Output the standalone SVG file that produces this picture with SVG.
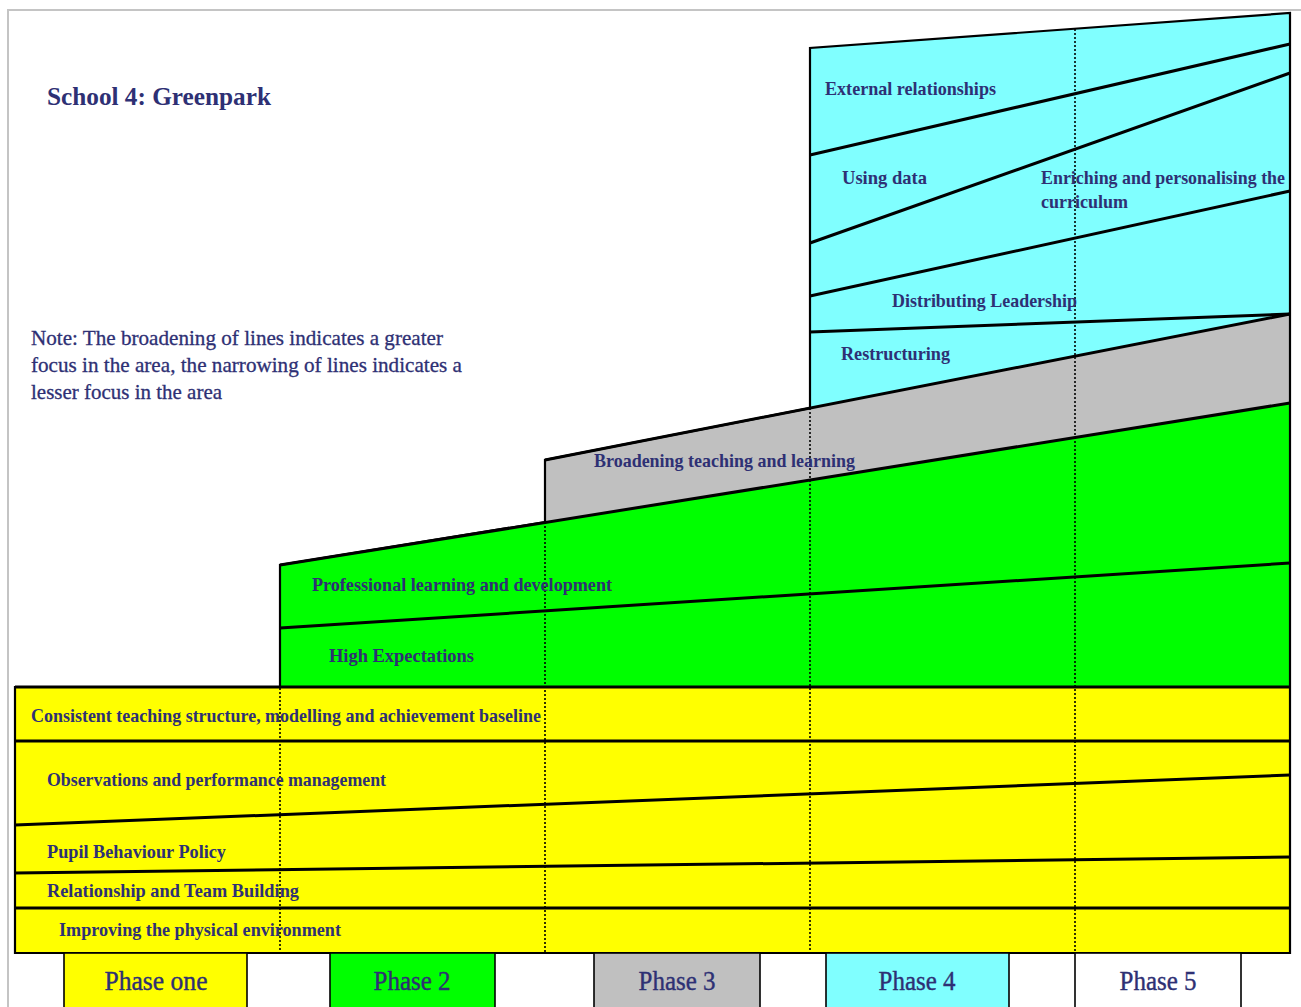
<svg xmlns="http://www.w3.org/2000/svg" width="1301" height="1007" viewBox="0 0 1301 1007">
  <style>
    .lbl { font-family: "Liberation Serif", "Times New Roman", serif; font-weight: bold; font-size: 19px; fill: #2e3074; }
    .note { font-family: "Liberation Serif", "Times New Roman", serif; font-size: 21px; fill: #2e3074; stroke: #2e3074; stroke-width: 0.3; }
    .title { font-family: "Liberation Serif", "Times New Roman", serif; font-weight: bold; font-size: 26px; fill: #2e3074; }
    .phase { font-family: "Liberation Serif", "Times New Roman", serif; font-size: 28px; fill: #2e3074; stroke: #2e3074; stroke-width: 0.4; text-anchor: middle; }
    .sep { stroke: #000; stroke-width: 3; fill: none; }
    .edge { stroke: #000; stroke-width: 2.2; fill: none; }
    .dash { stroke: #000; stroke-width: 1.6; stroke-dasharray: 2 2; fill: none; }
    .box { stroke: #000; stroke-width: 1.6; }
  </style>

  <!-- page frame -->
  <rect x="0" y="0" width="1301" height="1007" fill="#ffffff"/>
  <rect x="8" y="10" width="1310" height="1010" fill="#ffffff" stroke="#c4c4c4" stroke-width="2"/>

  <text class="title" x="47" y="105" textLength="224" lengthAdjust="spacingAndGlyphs">School 4: Greenpark</text>

  <g id="note">
    <text class="note" x="31" y="345" textLength="412" lengthAdjust="spacingAndGlyphs">Note: The broadening of lines indicates a greater</text>
    <text class="note" x="31" y="372" textLength="431" lengthAdjust="spacingAndGlyphs">focus in the area, the narrowing of lines indicates a</text>
    <text class="note" x="31" y="399" textLength="191" lengthAdjust="spacingAndGlyphs">lesser focus in the area</text>
  </g>

  <!-- phase bands -->
  <g id="band-phase4">
    <polygon points="810,48 1290,13 1290,314 810,408" fill="#80ffff"/>
  </g>
  <g id="band-phase3">
    <polygon points="545,460 1290,314 1290,403 545,522" fill="#c0c0c0"/>
  </g>
  <g id="band-phase2">
    <polygon points="280,565 1290,403 1290,687 280,687" fill="#00ff00"/>
  </g>
  <g id="band-phase1">
    <rect x="15" y="687" width="1275" height="266" fill="#ffff00"/>
  </g>

  <g id="connectors">
    <!-- outline -->
    <path class="edge" d="M15,953 L15,687 L280,687 L280,565 L545,522 L545,460 L810,408 L810,48 L1290,13 L1290,953 Z"/>
    <!-- band boundaries -->
    <line class="sep" x1="280" y1="565" x2="1290" y2="403"/>
    <line class="sep" x1="545" y1="460" x2="1290" y2="314"/>
    <line class="sep" x1="15" y1="687" x2="1290" y2="687"/>
    <!-- phase 1 rows -->
    <line class="sep" x1="15" y1="741" x2="1290" y2="741"/>
    <line class="sep" x1="15" y1="825" x2="1290" y2="775"/>
    <line class="sep" x1="15" y1="873" x2="1290" y2="857"/>
    <line class="sep" x1="15" y1="908" x2="1290" y2="908"/>
    <!-- phase 2 rows -->
    <line class="sep" x1="280" y1="628" x2="1290" y2="563"/>
    <!-- phase 4 rows -->
    <line class="sep" x1="810" y1="155" x2="1290" y2="44"/>
    <line class="sep" x1="810" y1="243" x2="1290" y2="73"/>
    <line class="sep" x1="810" y1="296" x2="1290" y2="191"/>
    <line class="sep" x1="810" y1="332" x2="1290" y2="314"/>
    <!-- phase dividers -->
    <line class="dash" x1="280" y1="688" x2="280" y2="953"/>
    <line class="dash" x1="545" y1="522" x2="545" y2="953"/>
    <line class="dash" x1="810" y1="408" x2="810" y2="953"/>
    <line class="dash" x1="1075" y1="29" x2="1075" y2="953"/>
  </g>

  <!-- area labels -->
  <g id="areas">
    <text class="lbl" x="825" y="95" textLength="171" lengthAdjust="spacingAndGlyphs">External relationships</text>
    <text class="lbl" x="842" y="184" textLength="85" lengthAdjust="spacingAndGlyphs">Using data</text>
    <text class="lbl" x="1041" y="184" textLength="244" lengthAdjust="spacingAndGlyphs">Enriching and personalising the</text>
    <text class="lbl" x="1041" y="208" textLength="87" lengthAdjust="spacingAndGlyphs">curriculum</text>
    <text class="lbl" x="892" y="307" textLength="185" lengthAdjust="spacingAndGlyphs">Distributing Leadership</text>
    <text class="lbl" x="841" y="360" textLength="109" lengthAdjust="spacingAndGlyphs">Restructuring</text>
    <text class="lbl" x="594" y="467" textLength="261" lengthAdjust="spacingAndGlyphs">Broadening teaching and learning</text>
    <text class="lbl" x="312" y="591" textLength="300" lengthAdjust="spacingAndGlyphs">Professional learning and development</text>
    <text class="lbl" x="329" y="662" textLength="145" lengthAdjust="spacingAndGlyphs">High Expectations</text>
    <text class="lbl" x="31" y="722" textLength="510" lengthAdjust="spacingAndGlyphs">Consistent teaching structure, modelling and achievement baseline</text>
    <text class="lbl" x="47" y="786" textLength="339" lengthAdjust="spacingAndGlyphs">Observations and performance management</text>
    <text class="lbl" x="47" y="858" textLength="179" lengthAdjust="spacingAndGlyphs">Pupil Behaviour Policy</text>
    <text class="lbl" x="47" y="897" textLength="252" lengthAdjust="spacingAndGlyphs">Relationship and Team Building</text>
    <text class="lbl" x="59" y="936" textLength="282" lengthAdjust="spacingAndGlyphs">Improving the physical environment</text>
  </g>

  <!-- phase legend -->
  <g id="phase-one">
    <rect class="box" x="64" y="953" width="183" height="60" fill="#ffff00"/>
    <text class="phase" x="156" y="990" textLength="103" lengthAdjust="spacingAndGlyphs">Phase one</text>
  </g>
  <g id="phase-2">
    <rect class="box" x="330" y="953" width="165" height="60" fill="#00ff00"/>
    <text class="phase" x="412" y="990" textLength="77" lengthAdjust="spacingAndGlyphs">Phase 2</text>
  </g>
  <g id="phase-3">
    <rect class="box" x="594" y="953" width="166" height="60" fill="#c0c0c0"/>
    <text class="phase" x="677" y="990" textLength="77" lengthAdjust="spacingAndGlyphs">Phase 3</text>
  </g>
  <g id="phase-4">
    <rect class="box" x="826" y="953" width="183" height="60" fill="#80ffff"/>
    <text class="phase" x="917" y="990" textLength="77" lengthAdjust="spacingAndGlyphs">Phase 4</text>
  </g>
  <g id="phase-5">
    <rect class="box" x="1075" y="953" width="166" height="60" fill="#ffffff"/>
    <text class="phase" x="1158" y="990" textLength="77" lengthAdjust="spacingAndGlyphs">Phase 5</text>
  </g>
</svg>
